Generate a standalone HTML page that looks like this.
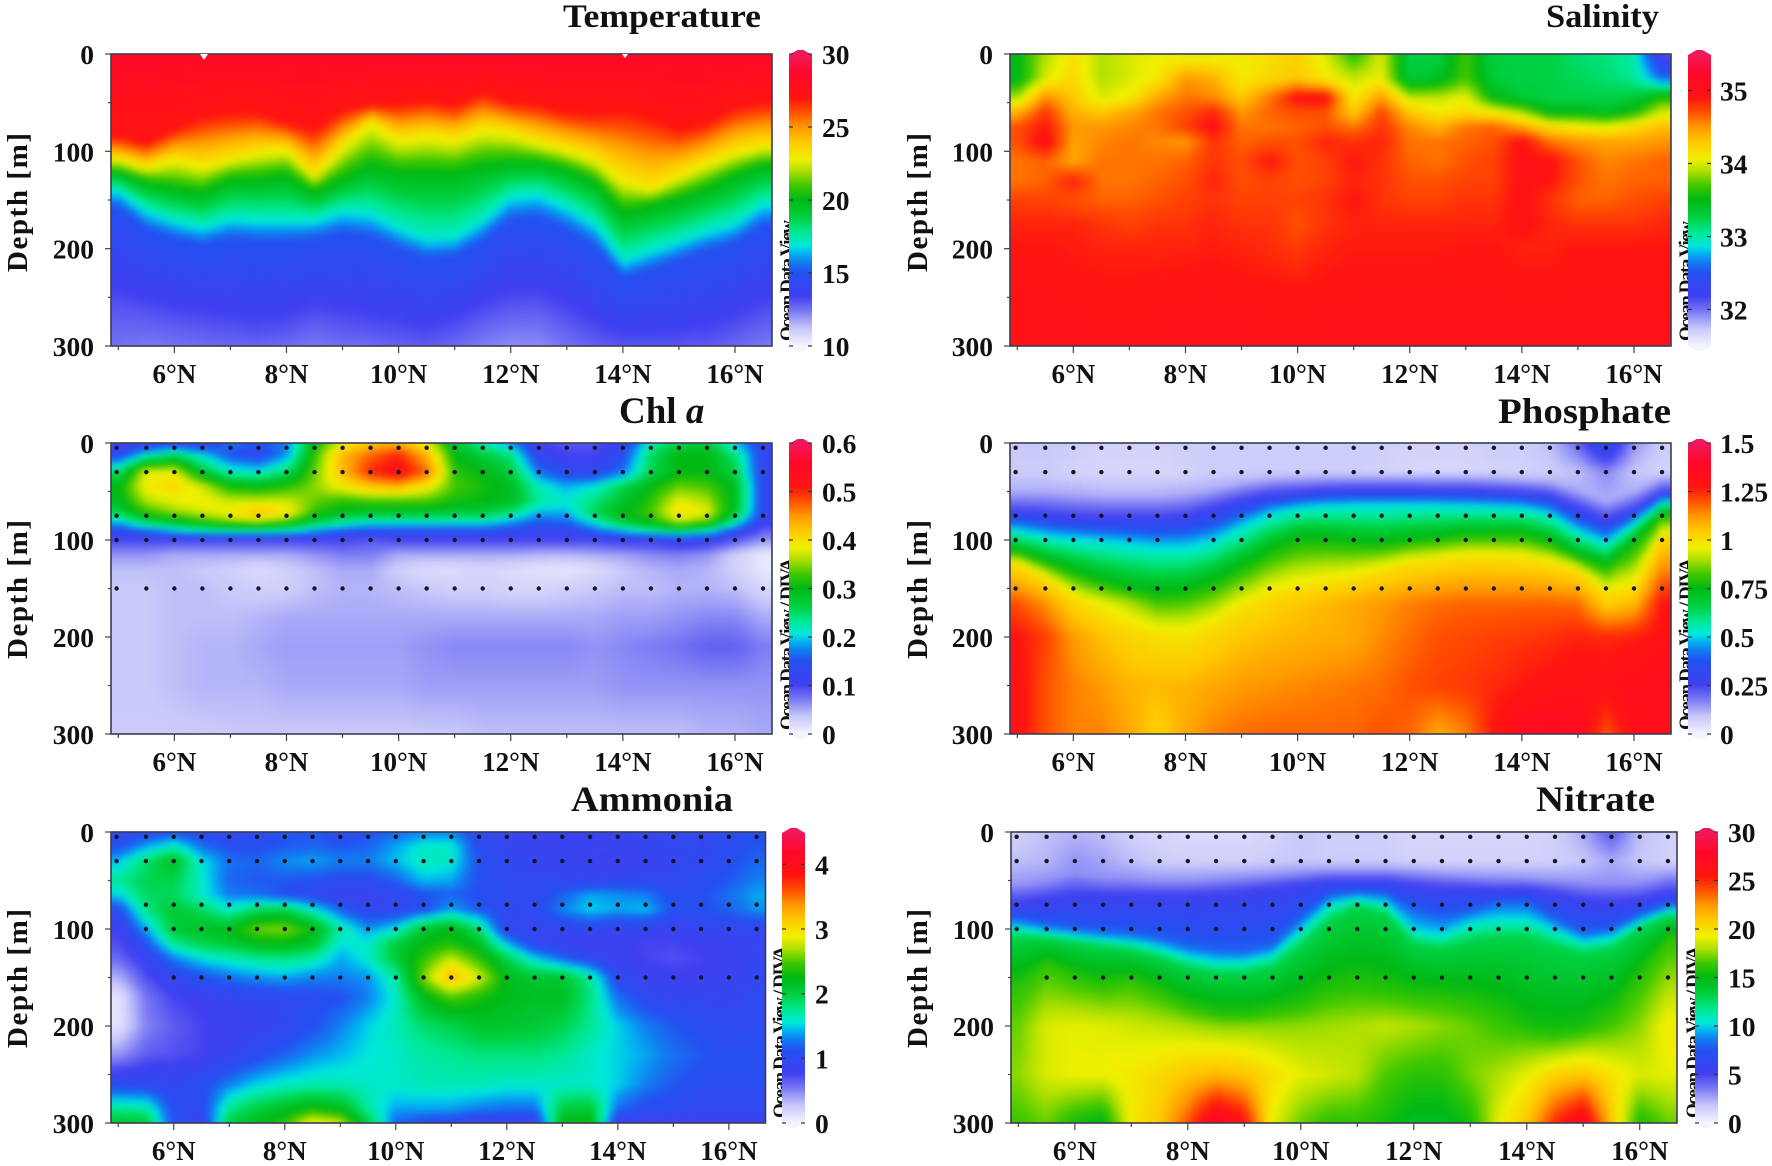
<!DOCTYPE html>
<html lang="en">
<head>
<meta charset="utf-8">
<title>Ocean section panels</title>
<style>
html,body{margin:0;padding:0;background:#fff;}
svg{display:block;}
text{font-family:"Liberation Serif",serif;font-weight:bold;fill:#111;}
</style>
</head>
<body>
<svg id="figure" width="1772" height="1166" viewBox="0 0 1772 1166">
<defs>
<filter id="soft" x="0" y="0" width="100%" height="100%" color-interpolation-filters="sRGB"><feGaussianBlur stdDeviation="2.6"/></filter>
</defs>
<rect width="1772" height="1166" fill="#fff"/>

<text x="563" y="27" font-size="33" textLength="198" lengthAdjust="spacingAndGlyphs">Temperature</text>
<text x="1546" y="27" font-size="33" textLength="113" lengthAdjust="spacingAndGlyphs">Salinity</text>
<text x="619" y="423" font-size="37">Chl <tspan font-style="italic">a</tspan></text>
<text x="1498" y="423" font-size="36" textLength="173" lengthAdjust="spacingAndGlyphs">Phosphate</text>
<text x="571" y="811" font-size="36" textLength="162" lengthAdjust="spacingAndGlyphs">Ammonia</text>
<text x="1536" y="811" font-size="36" textLength="119" lengthAdjust="spacingAndGlyphs">Nitrate</text>

<text transform="translate(27,272) rotate(-90)" font-size="29" textLength="139" lengthAdjust="spacing">Depth [m]</text>
<text transform="translate(927,272) rotate(-90)" font-size="29" textLength="139" lengthAdjust="spacing">Depth [m]</text>
<text transform="translate(27,659) rotate(-90)" font-size="29" textLength="139" lengthAdjust="spacing">Depth [m]</text>
<text transform="translate(927,659) rotate(-90)" font-size="29" textLength="139" lengthAdjust="spacing">Depth [m]</text>
<text transform="translate(27,1048) rotate(-90)" font-size="29" textLength="139" lengthAdjust="spacing">Depth [m]</text>
<text transform="translate(927,1048) rotate(-90)" font-size="29" textLength="139" lengthAdjust="spacing">Depth [m]</text>

<text transform="translate(793,341) rotate(-90)" font-size="19" textLength="121">Ocean Data View</text>
<text transform="translate(1692,341) rotate(-90)" font-size="19" textLength="120">Ocean Data View</text>
<text transform="translate(793,730) rotate(-90)" font-size="19" textLength="172">Ocean Data View / DIVA</text>
<text transform="translate(1692,730) rotate(-90)" font-size="19" textLength="172">Ocean Data View / DIVA</text>
<text transform="translate(786,1118) rotate(-90)" font-size="19" textLength="172">Ocean Data View / DIVA</text>
<text transform="translate(1699,1118) rotate(-90)" font-size="19" textLength="172">Ocean Data View / DIVA</text>
</svg>

<script>
/* ---------- shared axes data ---------- */
const lats=[5,5.5,6,6.5,7,7.5,8,8.5,9,9.5,10,10.5,11,11.5,12,12.5,13,13.5,14,14.5,15,15.5,16,16.5];
const latTicks=[5,6,7,8,9,10,11,12,13,14,15,16];
const depthTicks=[0,50,100,150,200,250,300];
const sampleDepths=[5,30,75,100,150];
const sampleLats=[4.97,5.5,6,6.5,7,7.5,8,8.5,9,9.5,10,10.5,11,11.5,12,12.5,13,13.5,14,14.5,15,15.5,16,16.5];

/* ---------- Temperature (degC): depth of each isotherm per latitude ---------- */
const tempLevels=[27,23,20,17,15,13];
const tempIso27=[85,92,78,65,61,61,71,78,58,52,52,48,53,40,50,52,60,62,58,65,78,71,55,50];
const tempIso23=[108,117,108,115,108,101,98,125,95,70,88,84,88,77,81,91,98,108,129,139,125,112,101,95];
const tempIso20=[122,132,139,143,129,129,125,143,129,115,122,122,122,115,112,112,119,132,163,156,149,139,125,115];
const tempIso17=[140,161,171,178,169,171,171,171,161,164,178,190,188,171,147,144,157,174,212,202,192,182,174,154];
const tempIso15=[158,180,190,196,190,192,192,190,184,188,200,210,208,192,170,168,180,198,230,222,212,202,194,176];
const tempIso13=[262,268,275,280,285,290,285,272,280,285,290,295,285,270,260,258,275,290,310,310,305,298,285,270];
const tempDepths=[0,300];
const tempSurface=[28.5,28.5,28.5,28.5,28.5,28.5,28.5,28.5,28.5,28.5,28.5,28.5,28.5,28.5,28.5,28.5,28.5,28.5,28.5,28.5,28.5,28.5,28.5,28.5];
const tempBottom=[12.5,12.4,12.5,12.6,12.7,12.7,12.6,12.4,12.6,12.6,12.8,12.9,12.7,12.3,12.1,12.1,12.5,12.8,13,13,13,12.9,12.7,12.4];

/* ---------- Salinity: values by depth row ---------- */
const salDepths=[0,25,45,60,75,90,110,130,150,175,200,250,300];
const salRows=[
[33.5,33.9,34.15,33.9,34,34.05,34,34,34.1,34.15,34.25,34,33.6,34,33.25,33.25,33.7,33.25,33.25,33.25,33.15,33.1,33,32.1],
[33.45,34,34.2,33.9,34,34.1,34.5,34.4,34.1,34.2,34.3,34.1,33.95,34.05,33.3,33.4,33.7,33.3,33.25,33.25,33.2,33.15,33.05,32.6],
[33.9,34.55,34.3,34,34.1,34.45,34.6,34.55,34.3,34.6,34.95,34.95,34.1,34.5,33.95,33.95,34.05,33.5,33.3,33.25,33.25,33.25,33.3,33.6],
[34.4,34.8,34.4,34.3,34.45,34.6,34.7,34.85,34.5,34.65,34.7,34.7,34.3,34.75,34.3,34.1,34.2,34.1,33.9,33.5,33.5,33.4,33.6,34],
[34.7,34.9,34.5,34.5,34.55,34.6,34.75,34.95,34.6,34.6,34.65,34.7,34.6,34.8,34.55,34.4,34.6,34.65,34.45,34.2,34.1,34.05,34.2,34.35],
[34.7,35,34.45,34.55,34.6,34.55,34.5,34.8,34.65,34.7,34.7,34.85,34.8,34.85,34.6,34.6,34.65,34.7,34.95,34.6,34.5,34.45,34.45,34.5],
[34.6,34.65,34.45,34.6,34.6,34.6,34.65,34.8,34.7,34.9,34.7,34.75,34.9,34.8,34.65,34.6,34.7,34.75,34.95,34.95,34.7,34.55,34.6,34.65],
[34.6,34.65,34.85,34.6,34.6,34.65,34.7,34.85,34.7,34.75,34.7,34.75,34.85,34.8,34.7,34.7,34.75,34.75,34.95,34.9,34.7,34.6,34.65,34.65],
[34.75,34.75,34.7,34.65,34.65,34.7,34.75,34.8,34.75,34.75,34.75,34.8,34.9,34.8,34.75,34.75,34.8,34.8,34.95,34.8,34.65,34.65,34.7,34.75],
[34.85,34.85,34.85,34.8,34.75,34.8,34.8,34.85,34.8,34.8,34.7,34.8,34.85,34.85,34.85,34.85,34.85,34.85,34.95,34.85,34.8,34.8,34.8,34.85],
[34.9,34.9,34.88,34.85,34.85,34.85,34.85,34.88,34.85,34.82,34.78,34.85,34.88,34.88,34.88,34.88,34.9,34.9,34.85,34.85,34.9,34.9,34.9,34.9],
[34.95,34.95,34.93,34.92,34.92,34.93,34.95,34.95,34.93,34.93,34.92,34.93,34.95,34.95,34.95,34.95,34.95,34.95,34.95,34.95,34.95,34.95,34.95,34.95],
[34.98,34.98,35,35,34.98,34.98,35,35,35,34.98,34.98,35,35,35,35,35,35,35,35,35,35,35,35,35]
];

/* ---------- Chl a: values by depth row ---------- */
const chlDepths=[0,12,30,45,60,72,82,92,100,115,130,150,180,210,250,300];
const chlRows=[
[.1,.11,.12,.11,.17,.15,.17,.3,.38,.42,.43,.38,.28,.22,.18,.1,.09,.09,.12,.22,.26,.27,.2,.12],
[.13,.21,.25,.2,.15,.13,.18,.32,.43,.47,.5,.43,.3,.27,.24,.12,.1,.1,.14,.25,.3,.3,.24,.13],
[.25,.38,.38,.28,.22,.21,.25,.34,.43,.5,.53,.47,.32,.3,.27,.17,.13,.13,.17,.26,.3,.3,.27,.12],
[.3,.39,.41,.37,.31,.3,.32,.35,.39,.42,.43,.39,.33,.31,.29,.22,.19,.21,.26,.3,.34,.33,.29,.13],
[.29,.36,.38,.39,.37,.37,.37,.34,.32,.33,.33,.33,.31,.3,.29,.23,.21,.24,.28,.32,.38,.36,.29,.13],
[.26,.32,.35,.37,.39,.43,.4,.32,.29,.28,.28,.28,.27,.27,.24,.19,.19,.26,.3,.33,.4,.38,.28,.13],
[.19,.25,.28,.31,.34,.35,.32,.26,.23,.21,.21,.21,.21,.21,.18,.15,.16,.21,.27,.3,.36,.33,.22,.11],
[.12,.15,.18,.2,.21,.21,.2,.17,.14,.13,.13,.13,.13,.13,.12,.12,.11,.15,.18,.21,.23,.2,.13,.08],
[.1,.1,.1,.1,.1,.1,.1,.1,.1,.09,.1,.1,.1,.1,.1,.1,.1,.1,.11,.11,.12,.12,.09,.06],
[.06,.06,.05,.05,.05,.05,.05,.06,.07,.07,.05,.05,.05,.05,.05,.045,.045,.05,.055,.065,.07,.06,.03,.01],
[.04,.04,.04,.035,.03,.02,.03,.04,.05,.05,.03,.02,.02,.025,.02,.015,.012,.02,.035,.045,.05,.045,.03,.01],
[.035,.035,.04,.04,.035,.03,.03,.04,.045,.045,.04,.035,.03,.03,.025,.025,.03,.035,.04,.04,.045,.045,.04,.025],
[.035,.035,.04,.04,.04,.045,.05,.05,.05,.05,.05,.05,.05,.05,.05,.05,.05,.05,.055,.055,.06,.065,.065,.05],
[.035,.035,.04,.045,.045,.05,.055,.055,.055,.055,.055,.06,.065,.065,.065,.065,.065,.06,.065,.07,.075,.085,.085,.07],
[.035,.035,.04,.045,.045,.045,.05,.05,.05,.05,.05,.055,.055,.055,.055,.055,.055,.055,.06,.06,.06,.06,.06,.06],
[.033,.033,.033,.033,.035,.035,.035,.035,.035,.035,.035,.035,.035,.04,.04,.04,.04,.04,.04,.04,.04,.045,.045,.05]
];

/* ---------- Phosphate: contour depths + fixed-depth rows ---------- */
const phosLevels=[.12,.25,.5,.75,1];
const phosIso012=[50,50,52,54,54,54,52,47,41,37,36,35,35,35,35,35,35,36,38,40,48,60,50,36];
const phosIso025=[70,72,75,76,76,76,74,66,58,52,50,48,47,47,47,48,48,49,50,53,66,78,68,50];
const phosIso050=[89,95,98,100,103,106,106,100,85,72,66,64,63,63,63,63,64,65,66,72,90,102,82,60];
const phosIso075=[110,120,130,140,148,152,150,140,125,108,96,96,100,102,98,96,92,92,92,100,115,125,100,72];
const phosIso100=[125,140,160,175,190,198,200,190,170,158,150,145,140,132,125,122,118,118,120,125,132,155,150,95];
const phosDepths=[0,30,165,200,250,300];
const phosRows=[
[.09,.09,.08,.07,.07,.07,.08,.08,.08,.08,.08,.08,.08,.08,.07,.07,.07,.08,.08,.1,.2,.38,.15,.08],
[.08,.08,.07,.06,.06,.06,.07,.08,.08,.08,.08,.08,.08,.07,.06,.06,.06,.07,.07,.08,.1,.16,.09,.07],
[1.2,1.13,1.02,.96,.9,.82,.83,.88,.97,1.02,1.05,1.07,1.1,1.12,1.15,1.17,1.18,1.18,1.18,1.18,1.17,1.03,1.07,1.28],
[1.28,1.22,1.12,1.06,1.02,1,.99,1.02,1.05,1.07,1.08,1.09,1.1,1.14,1.17,1.2,1.21,1.22,1.23,1.24,1.26,1.25,1.26,1.3],
[1.3,1.2,1.15,1.12,1.08,1.07,1.08,1.1,1.12,1.13,1.14,1.15,1.16,1.17,1.2,1.22,1.23,1.25,1.27,1.29,1.3,1.3,1.33,1.34],
[1.3,1.2,1.15,1.15,1.1,1.03,1.1,1.15,1.17,1.18,1.18,1.18,1.18,1.2,1.18,1.1,1.15,1.28,1.36,1.38,1.36,1.2,1.32,1.32]
];

/* ---------- Ammonia: values by depth row ---------- */
const ammDepths=[0,15,30,50,65,80,100,115,130,150,170,200,230,260,285,300];
const ammRows=[
[.95,1,1.1,1,.95,1,1.15,1.15,1.05,1.1,1.2,1.3,1.3,1,.9,.85,.85,.85,.9,.95,.95,.95,1.05,1.1],
[1.1,1.4,1.65,1.25,1.1,1.1,1.15,1.2,1.15,1.2,1.4,1.6,1.6,1.05,.9,.85,.85,.85,.85,.9,.95,.95,1.05,1.15],
[1.45,1.85,2.15,1.55,1.25,1.2,1.35,1.4,1.3,1.3,1.45,1.65,1.6,1.1,.95,.9,.9,.85,.8,.85,.9,.95,1.1,1.2],
[1.75,1.95,1.95,1.6,1.2,1.15,1.15,1.1,1.05,1.05,1.2,1.45,1.4,1.1,1,.95,.95,.9,.95,.95,1,1.05,1.15,1.3],
[1.5,1.9,1.9,1.6,1.3,1.25,1.1,.95,.85,.85,.95,1.1,1.2,1.1,1,1,1.2,1.4,1.35,1.3,1.05,1.1,1.25,1.4],
[1.05,1.8,2.05,1.9,1.6,1.9,1.95,1.6,1.2,.95,.95,1.1,1.4,1.15,.95,1,1.3,1.5,1.4,1.45,1.1,1.1,1.2,1.35],
[.8,1.4,2.05,2.15,2.2,2.55,2.6,2.3,1.7,1.35,1.55,2.1,2.25,1.85,.9,.9,.95,.95,.9,.9,.85,.9,.95,.95],
[.7,1.1,1.75,1.95,2.05,2.2,2.25,2.1,1.55,1.6,2,2.25,2.35,2.15,1.45,.95,.85,.8,.8,.75,.75,.8,.85,.9],
[.6,.85,1.3,1.55,1.65,1.75,1.8,1.7,1.4,1.6,2.05,2.4,2.75,2.4,1.95,1.5,1.2,.95,.8,.75,.7,.75,.8,.9],
[.35,.7,.95,1.1,1.25,1.35,1.4,1.3,1.3,1.35,1.7,2.6,3.25,2.8,2.2,2.1,2.1,1.75,1,.85,.8,.8,.85,.95],
[.1,.55,.75,.8,.9,.95,1,1.05,1.1,1.3,1.6,2.2,2.5,2.35,2.2,2.15,2.15,1.8,1.25,1,.9,.9,.9,1],
[.1,.5,.65,.75,.8,.85,.95,1.1,1.3,1.5,1.65,1.85,1.95,2.1,2.1,2.05,1.95,1.75,1.5,1.3,1.15,1.05,1,1],
[.45,.65,.7,.75,.9,1.05,1.2,1.35,1.45,1.55,1.6,1.7,1.75,1.8,1.8,1.8,1.75,1.6,1.5,1.4,1.25,1.15,1.1,1.1],
[1,1,.95,1.05,1.3,1.5,1.6,1.65,1.65,1.6,1.6,1.65,1.65,1.65,1.6,1.6,1.6,1.6,1.5,1.3,1.15,1.05,1.05,1.05],
[1.75,1.7,1.05,1,1.75,2,2.15,2.3,2.2,1.7,1.4,1.4,1.4,1.3,1.25,1.25,2,2.05,1.25,1.05,1.05,.95,.95,.95],
[2.1,2.05,1.05,.85,2,2.2,2.4,2.95,2.75,2,1.2,1.05,.95,.85,.85,.85,2.25,2.3,.85,.8,.75,.75,.75,.8]
];

/* ---------- Nitrate: contour depths + fixed-depth rows ---------- */
const nitLevels=[3,5.5,8,10,13,16];
const nitIso3=[55,50,42,47,48,50,50,48,46,44,42,40,40,40,42,44,46,47,48,50,52,52,52,45];
const nitIso55=[75,72,68,68,68,68,68,66,64,60,55,52,52,52,56,60,60,62,60,65,72,75,72,65];
const nitIso8=[90,96,100,103,105,110,118,122,124,118,90,66,62,64,80,88,82,72,72,90,105,100,85,75];
const nitIso10=[97,102,106,110,112,118,127,132,132,125,100,73,68,72,100,105,92,88,88,100,112,108,92,80];
const nitIso13=[108,110,114,118,122,130,140,146,146,140,118,92,76,85,115,120,112,108,108,118,125,120,100,88];
const nitIso16=[160,135,150,158,152,165,180,188,190,185,180,165,160,165,170,172,178,190,205,210,205,190,150,110];
const nitDepths=[0,30,200,250,300];
const nitRows=[
[1.5,2,2.2,2,1.5,1.2,1,1,1,1.3,1.8,1.5,1.5,1.5,1.2,1.2,1.2,1.2,1.2,1.5,2.5,4.5,2,1.5],
[2,2.2,3,2.6,2,1.6,1.5,1.5,1.5,1.6,1.8,1.6,1.6,1.6,1.4,1.4,1.4,1.4,1.4,1.5,1.8,2.5,1.8,1.4],
[17,18.8,19,18.9,18.6,18.3,18,17.5,17.5,17.5,17.6,17.8,18,18.3,18,17.5,17,16.3,15.6,15.4,15.6,16.5,17.5,19.5],
[17.5,18.8,19.2,19.2,19.6,20.2,21,21.5,21,20,19,18.6,18.2,16.6,16,16,17.2,18,19,20.5,21,19.8,18.8,19],
[16.3,17,15.5,14.8,19.5,21,24,28,26,19,17,16,16,15.5,14.5,14.5,15.5,19,21,25,27.5,21,15.5,17]
];

/* ---------- colour ramp and SVG helpers ---------- */
const rampStops=[0,.06,.12,.17,.25,.29,.32,.345,.39,.44,.5,.55,.6,.64,.7,.75,.8,.85,.93,1];
const rampColours=['#f4f4ff','#c8c8fa','#7878f4','#4040f0','#2450f0','#1080f0','#00b8f0','#00e8d8','#00e890','#00d040','#00b814','#40c800','#b0e000','#f0f000','#ffc800','#ff9800','#ff5000','#ff1410','#ff0828','#f0185c'];
const rampRgb=rampColours.map(function(h){return [parseInt(h.substr(1,2),16),parseInt(h.substr(3,2),16),parseInt(h.substr(5,2),16)];});
function ramp(f){
  f=Math.max(0,Math.min(1,f));
  let i=0;
  while(i<rampStops.length-2&&f>rampStops[i+1])i++;
  const t=(f-rampStops[i])/(rampStops[i+1]-rampStops[i]);
  const a=rampRgb[i],b=rampRgb[i+1];
  return 'rgb('+Math.round(a[0]+(b[0]-a[0])*t)+','+Math.round(a[1]+(b[1]-a[1])*t)+','+Math.round(a[2]+(b[2]-a[2])*t)+')';
}
const svgNS=document.getElementById('figure').namespaceURI;
function mk(tag,attrs,parent){
  const el=document.createElementNS(svgNS,tag);
  for(const k in attrs)el.setAttribute(k,attrs[k]);
  parent.appendChild(el);
  return el;
}
function sampleColumn(arr,lat){
  const c=Math.max(lats[0],Math.min(lats[lats.length-1],lat));
  const p=(c-lats[0])/(lats[1]-lats[0]);
  const i=Math.min(arr.length-2,Math.floor(p));
  return arr[i]+(arr[i+1]-arr[i])*(p-i);
}
function profileAt(field,lat){
  const pts=[];
  field.depths.forEach(function(d,r){pts.push([d,sampleColumn(field.rows[r],lat)]);});
  field.levels.forEach(function(l,r){pts.push([sampleColumn(field.isos[r],lat),l]);});
  pts.sort(function(a,b){return a[0]-b[0];});
  return pts;
}
function valueOn(pts,d){
  if(d<=pts[0][0])return pts[0][1];
  for(let i=0;i<pts.length-1;i++){
    if(d<=pts[i+1][0]){
      const s=pts[i+1][0]-pts[i][0];
      return s<=0?pts[i+1][1]:pts[i][1]+(pts[i+1][1]-pts[i][1])*(d-pts[i][0])/s;
    }
  }
  return pts[pts.length-1][1];
}

/* ---------- panels ---------- */
const panels=[
{key:'temperature',x0:111,x1:772,y0:54,y1:346,barX:789,labX:822,min:10,max:30,barTicks:[10,15,20,25,30],
 depths:tempDepths,rows:[tempSurface,tempBottom],levels:tempLevels,isos:[tempIso27,tempIso23,tempIso20,tempIso17,tempIso15,tempIso13],dots:false,skip:[]},
{key:'salinity',x0:1010,x1:1671,y0:54,y1:346,barX:1688,labX:1720,min:31.5,max:35.5,barTicks:[32,33,34,35],
 depths:salDepths,rows:salRows,levels:[],isos:[],dots:false,skip:[]},
{key:'chl-a',x0:111,x1:772,y0:443,y1:734,barX:789,labX:822,min:0,max:.6,barTicks:[0,.1,.2,.3,.4,.5,.6],
 depths:chlDepths,rows:chlRows,levels:[],isos:[],dots:true,skip:[]},
{key:'phosphate',x0:1010,x1:1671,y0:443,y1:734,barX:1688,labX:1720,min:0,max:1.5,barTicks:[0,.25,.5,.75,1,1.25,1.5],
 depths:phosDepths,rows:phosRows,levels:phosLevels,isos:[phosIso012,phosIso025,phosIso050,phosIso075,phosIso100],dots:true,skip:['100:8','100:9.5']},
{key:'ammonia',x0:111,x1:765.5,y0:832,y1:1123,barX:782,labX:815,min:0,max:4.5,barTicks:[0,1,2,3,4],
 depths:ammDepths,rows:ammRows,levels:[],isos:[],dots:true,skip:['75:4.97','100:4.97','150:4.97','150:5.5']},
{key:'nitrate',x0:1011,x1:1677,y0:832,y1:1123,barX:1695,labX:1728,min:0,max:30,barTicks:[0,5,10,15,20,25,30],
 depths:nitDepths,rows:nitRows,levels:nitLevels,isos:[nitIso3,nitIso55,nitIso8,nitIso10,nitIso13,nitIso16],dots:true,skip:['150:4.97']}
];

const root=document.getElementById('figure');
const latMin=4.87,latMax=16.66,cellW=6,cellH=5;

panels.forEach(function(p){
  const sx=function(lat){return p.x0+(lat-latMin)/(latMax-latMin)*(p.x1-p.x0);};
  const sy=function(d){return p.y0+d/300*(p.y1-p.y0);};
  const latOf=function(x){return latMin+(x-p.x0)/(p.x1-p.x0)*(latMax-latMin);};
  const depthOf=function(y){return (y-p.y0)/(p.y1-p.y0)*300;};

  const clip=mk('clipPath',{id:'clip-'+p.key},root);
  
  
  const clipRect=mk('rect',{x:p.x0,y:p.y0,width:p.x1-p.x0,height:p.y1-p.y0},clip);
  
  

  const outer=mk('g',{'clip-path':'url(#clip-'+p.key+')'},root);
  
  
  const heat=mk('g',{filter:'url(#soft)'},outer);
  
  

  for(let x=p.x0-12;x<p.x1+12;x+=cellW){
    const pts=profileAt(p,latOf(x+cellW/2));
    for(let y=p.y0-10;y<p.y1+10;y+=cellH){
      const v=valueOn(pts,depthOf(y+cellH/2));
      const cell=mk('rect',{x:x,y:y,width:cellW+.5,height:cellH+.5,fill:ramp((v-p.min)/(p.max-p.min))},heat);
      
      
    }
  }

  if(p.dots){
    sampleDepths.forEach(function(d){
      sampleLats.forEach(function(l){
        if(p.skip.indexOf(d+':'+l)>=0)return;
        const dot=mk('circle',{cx:sx(l),cy:sy(d),r:2.2,fill:'#151525'},root);
        
        
      });
    });
  }

  const frame=mk('rect',{x:p.x0,y:p.y0,width:p.x1-p.x0,height:p.y1-p.y0,fill:'none',stroke:'#3c3c50','stroke-width':1.6},root);
  
  

  depthTicks.forEach(function(d){
    const major=d%100===0;
    const t=mk('line',{x1:p.x0-(major?6:3),x2:p.x0,y1:sy(d),y2:sy(d),stroke:'#444','stroke-width':1.2},root);
    
    
    if(major){
      const lab=mk('text',{x:p.x0-17,y:sy(d)+10,'text-anchor':'end','font-size':27.5},root);
      lab.textContent=String(d);
      
      
    }
  });

  latTicks.forEach(function(l){
    const major=l%2===0;
    const t=mk('line',{x1:sx(l),x2:sx(l),y1:p.y1,y2:p.y1+(major?7:4),stroke:'#444','stroke-width':1.2},root);
    
    
    if(major){
      const lab=mk('text',{x:sx(l),y:p.y1+37,'text-anchor':'middle','font-size':27},root);
      lab.textContent=l+'\u00b0N';
      
      
    }
  });

  const grad=mk('linearGradient',{id:'bar-'+p.key,gradientUnits:'userSpaceOnUse',x1:0,x2:0,y1:p.y1,y2:p.y0},root);
  
  
  rampStops.forEach(function(s,i){
    const st=mk('stop',{offset:s,'stop-color':rampColours[i]},grad);
    
    
  });
  const bw=23,bx=p.barX,mid=bx+bw/2;
  const bar=mk('polygon',{points:[bx,p.y0+1,mid-3,p.y0-4,mid+3,p.y0-4,bx+bw,p.y0+1,bx+bw,p.y1,mid+3,p.y1+5,mid-3,p.y1+5,bx,p.y1].join(' '),fill:'url(#bar-'+p.key+')'},root);
  
  

  p.barTicks.forEach(function(v){
    const y=p.y1-(v-p.min)/(p.max-p.min)*(p.y1-p.y0);
    const t1=mk('line',{x1:bx,x2:bx+4,y1:y,y2:y,stroke:'#333','stroke-width':1.2},root);
    
    
    const t2=mk('line',{x1:bx+bw-4,x2:bx+bw,y1:y,y2:y,stroke:'#333','stroke-width':1.2},root);
    
    
    const lab=mk('text',{x:p.labX,y:y+10,'font-size':27.5},root);
    lab.textContent=String(v);
    
    
  });
});

const notch1=mk('polygon',{points:'200,54 208,54 204,60',fill:'#f4fbfb'},root);


const notch2=mk('polygon',{points:'622,54 628,54 625,58',fill:'#f4fbfb'},root);


</script>
</body>
</html>
